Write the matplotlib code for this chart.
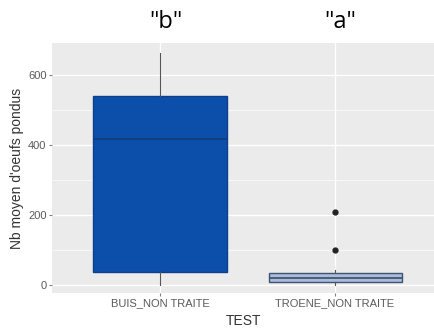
import matplotlib
matplotlib.use("Agg")
import matplotlib.pyplot as plt
from matplotlib.ticker import MultipleLocator

# Egg counts per treatment (box summary values)
categories = ["BUIS_NON TRAITE", "TROENE_NON TRAITE"]
q1 = [37, 8]
medians = [418, 20]
q3 = [540, 36]
whisker_low = [0, 0]
whisker_high = [663, 45]
outliers = [[], [208, 102]]
group_letters = ['"b"', '"a"']

fill_colors = ["#0b4fab", "#a9bcd8"]
edge_colors = ["#0d3f8c", "#3f5273"]
median_colors = ["#163a73", "#3a4d6e"]

plt.rcParams["font.family"] = ["Liberation Sans", "DejaVu Sans"]

fig = plt.figure(figsize=(4.35, 3.31), dpi=100)
ax = fig.add_axes([52 / 435, 38 / 331, 383 / 435, 250 / 331])
ax.set_facecolor("#ebebeb")
for s in ax.spines.values():
    s.set_visible(False)

stats = []
for i, name in enumerate(categories):
    stats.append(dict(label=name, q1=q1[i], med=medians[i], q3=q3[i],
                      whislo=whisker_low[i], whishi=whisker_high[i],
                      fliers=outliers[i]))

positions = list(range(1, len(categories) + 1))
bp = ax.bxp(stats, positions=positions, widths=0.76, patch_artist=True,
            showcaps=False, zorder=3,
            whiskerprops=dict(color="#555555", linewidth=0.8),
            flierprops=dict(marker="o", markerfacecolor="#222222",
                            markeredgecolor="#222222", markersize=3.5))
for i, box in enumerate(bp["boxes"]):
    box.set_facecolor(fill_colors[i])
    box.set_edgecolor(edge_colors[i])
    box.set_linewidth(1.0)
for i, med in enumerate(bp["medians"]):
    med.set_color(median_colors[i])
    med.set_linewidth(1.2)

ax.set_xlim(0.383, 2.571)
ax.set_ylim(-22, 691)
ax.yaxis.set_major_locator(MultipleLocator(200))
ax.yaxis.set_minor_locator(MultipleLocator(100))
ax.set_xticks(positions)
ax.set_xticklabels(categories)
ax.grid(which="major", color="white", linewidth=1.0, zorder=0)
ax.grid(which="minor", axis="y", color="white", linewidth=0.5, zorder=0)
ax.set_axisbelow(True)
ax.tick_params(axis="both", which="major", colors="#7f7f7f", length=2.5,
               width=0.8, labelsize=8, labelcolor="#5a5a5a", pad=1.5)
ax.tick_params(axis="y", which="minor", length=0)

ax.set_xlabel("TEST", fontsize=10, color="#333333", labelpad=4)
ax.set_ylabel("Nb moyen d'oeufs pondus", fontsize=10, color="#333333",
              labelpad=3)

for i, letter in enumerate(group_letters):
    ax.annotate(letter, xy=(positions[i], 1.0), xycoords=("data", "axes fraction"),
                xytext=(4, 15), textcoords="offset points", ha="center",
                va="center", fontsize=17, color="black",
                family=["Open Sans", "DejaVu Sans"], annotation_clip=False)

fig.savefig("out.png", dpi=100)
